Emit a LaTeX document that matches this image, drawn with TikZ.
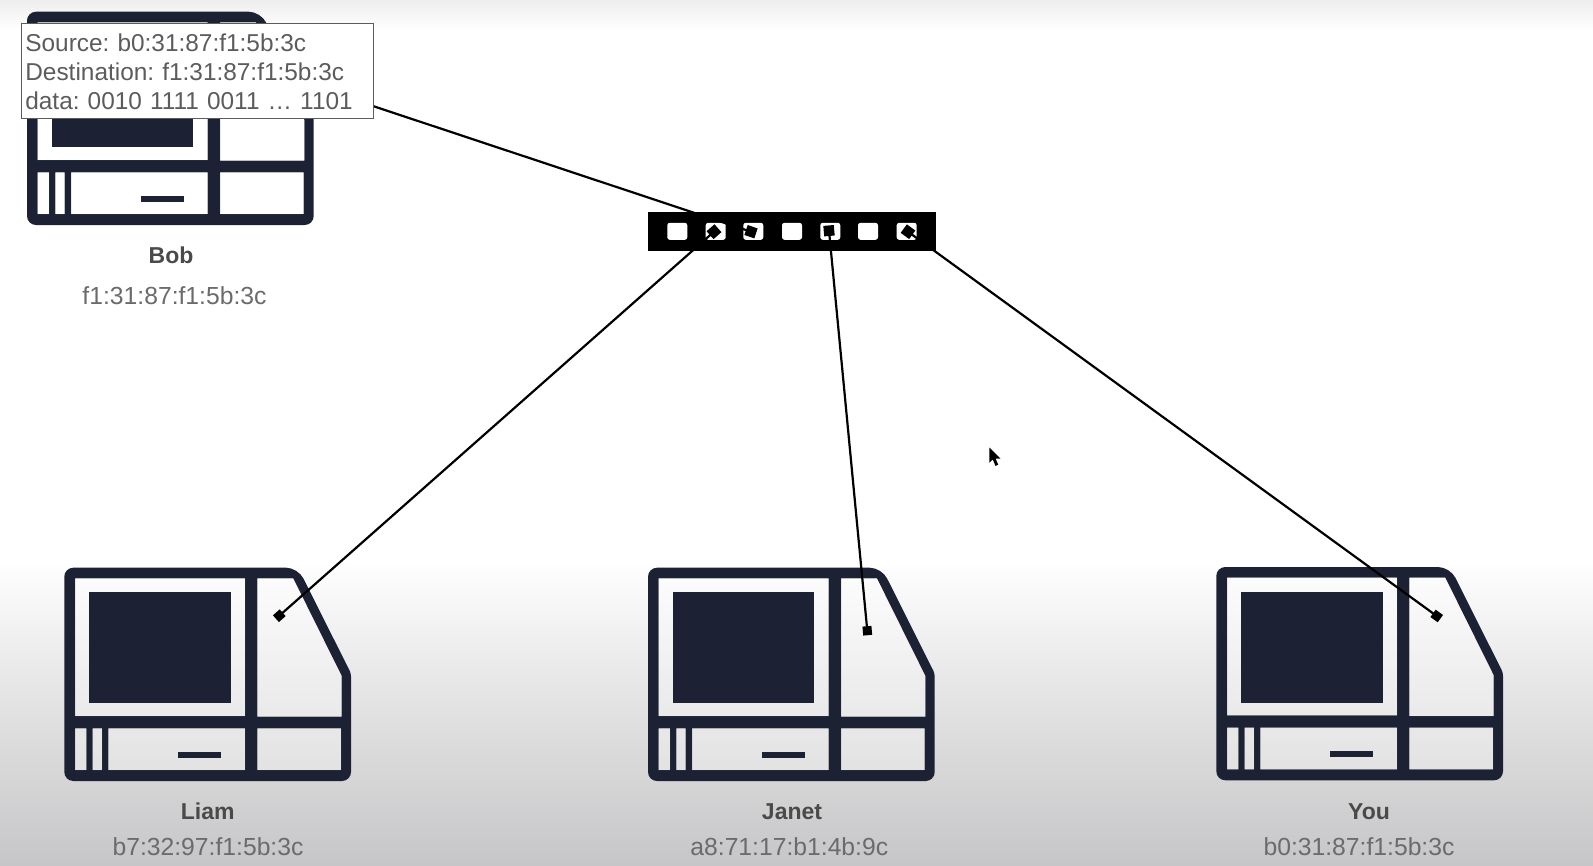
\documentclass[tikz,border=0pt]{standalone}
\usepackage{fontspec}
\setmainfont{Liberation Sans}
\definecolor{ink}{HTML}{1C2233}
\definecolor{namegrey}{HTML}{4A4A4A}
\definecolor{macgrey}{HTML}{6B6B6B}
\definecolor{boxgrey}{HTML}{5C5C5C}
\definecolor{bottomgrey}{HTML}{C6C5C7}
\definecolor{midgrey}{HTML}{EFEFEF}
\definecolor{topgrey}{HTML}{EEEEEE}
\tikzset{
  computer/.pic={
    \fill[ink,even odd rule]
      [rounded corners=9pt] (0,0) [rounded corners=12pt] -- (233.7,0) [rounded corners=3pt] -- (286.7,105.7) [rounded corners=9pt] -- (286.7,213.3) -- (0,213.3) -- cycle
      [sharp corners]
      (10.7,10.7) rectangle (180.7,148.3)
      (193,10.7) -- (229,10.7) -- (277.3,108) -- (277.3,149) -- (193,149) -- cycle
      (10.7,160.7) rectangle (22,202.3)
      (28.3,160.7) rectangle (37.7,202.3)
      (44,160.7) rectangle (180.7,202.3)
      (193,160.7) rectangle (276.7,202.3);
    \fill[white,opacity=.3,even odd rule]
      (10.7,10.7) rectangle (180.7,148.3)
      (193,10.7) -- (229,10.7) -- (277.3,108) -- (277.3,149) -- (193,149) -- cycle
      (10.7,160.7) rectangle (22,202.3)
      (28.3,160.7) rectangle (37.7,202.3)
      (44,160.7) rectangle (180.7,202.3)
      (193,160.7) rectangle (276.7,202.3);
    \fill[ink] (25,24.7) rectangle (166.3,135.7);
    \fill[ink] (114,184) rectangle (156.7,190.3);
  },
  portbox/.style={fill=white,rounded corners=2.5pt,minimum width=20pt,minimum height=17pt,inner sep=0pt,outer sep=0pt},
  wire/.style={draw=black,line width=2.2pt},
  plug/.style={fill=black,minimum size=9pt,inner sep=0pt,outer sep=0pt},
  portplug/.style={fill=black,minimum size=10.5pt,inner sep=0pt,outer sep=0pt},
  hostname/.style={anchor=base,text=namegrey,font=\fontsize{23}{26}\selectfont\bfseries,inner sep=0pt},
  hostmac/.style={anchor=base,text=macgrey,font=\fontsize{24.7}{28}\selectfont,inner sep=0pt},
}
\begin{document}
\begin{tikzpicture}[x=1pt,y=-1pt]
\frenchspacing
\useasboundingbox (0,0) rectangle (1593,865);
% background
\fill[white] (0,0) rectangle (1593,865);
\shade[top color=topgrey,bottom color=white] (0,0) rectangle (1593,30);
\shade[top color=white,bottom color=midgrey] (0,560) rectangle (1593,640);
\shade[top color=midgrey,bottom color=bottomgrey] (0,640) rectangle (1593,865);
% computers
\pic at (27,11.7) {computer};
\pic at (64.3,567.7) {computer};
\pic at (648,567.7) {computer};
\pic at (1216.3,567) {computer};
% switch
\node[fill=black,minimum width=287.7pt,minimum height=39.3pt,inner sep=0pt,outer sep=0pt,anchor=north west] (switch) at (648,211.7) {};
\node[portbox] (p1) at (677.3,231.3) {};
\node[portbox] (p2) at (715.7,231.3) {};
\node[portbox] (p3) at (753.3,231.3) {};
\node[portbox] (p4) at (792,231.3) {};
\node[portbox] (p5) at (830.3,231.3) {};
\node[portbox] (p6) at (868,231.3) {};
\node[portbox] (p7) at (906.7,231.3) {};
% plug ends
\node[plug,rotate=-18.6] (bobend) at (242,62.5) {};
\node[plug,rotate=41.4] (liamend) at (279.3,615.7) {};
\node[plug,rotate=5] (janetend) at (867.3,630.7) {};
\node[plug,rotate=-36] (youend) at (1436.7,616) {};
\node[portplug,rotate=-18.6] (s3) at (751,231.7) {};
\node[portplug,rotate=41.4] (s2) at (714,231.7) {};
\node[portplug,rotate=5] (s5) at (829,230.7) {};
\node[portplug,rotate=-36] (s7) at (908,231.7) {};
% connectors
\draw[wire] (bobend.center) -- (s3.center);
\draw[wire] (liamend.center) -- (s2.center);
\draw[wire] (janetend.center) -- (s5.center);
\draw[wire] (youend.center) -- (s7.center);
% frame
\node[draw=boxgrey,line width=1.1pt,fill=white,anchor=north west,inner xsep=3.8pt,inner ysep=0pt,
  minimum height=95.3pt,text width=344.5pt,align=left,text=boxgrey,
  font=\fontsize{24.4}{29}\selectfont] (frame) at (21,23)
  {\rule{0pt}{22.5pt}Source: b0:31:87:f1:5b:3c\\Destination: f1:31:87:f1:5b:3c\\data: 0010 1111 0011 … 1101\rule[-4pt]{0pt}{4pt}};
% labels
\node[hostname] (bobname) at (171,263) {Bob};
\node[hostmac] (bobmac) at (174.5,304.3) {f1:31:87:f1:5b:3c};
\node[hostname] (liamname) at (207.7,819.7) {Liam};
\node[hostmac] (liammac) at (208,855) {b7:32:97:f1:5b:3c};
\node[hostname] (janetname) at (792,819.7) {Janet};
\node[hostmac] (janetmac) at (789.3,855) {a8:71:17:b1:4b:9c};
\node[hostname] (youname) at (1369,819) {You};
\node[hostmac] (youmac) at (1359,855) {b0:31:87:f1:5b:3c};
% cursor
\begin{scope}[shift={(989.3,447.5)},scale=.92]
\draw[white,line width=2pt,fill=white,line join=round,opacity=.8] (0,0) -- (0,16.5) -- (3.8,13) -- (6.7,20) -- (9.7,18.7) -- (6.8,12) -- (12,12) -- cycle;
\fill[black] (0,0) -- (0,16.5) -- (3.8,13) -- (6.7,20) -- (9.7,18.7) -- (6.8,12) -- (12,12) -- cycle;
\end{scope}
\end{tikzpicture}
\end{document}
